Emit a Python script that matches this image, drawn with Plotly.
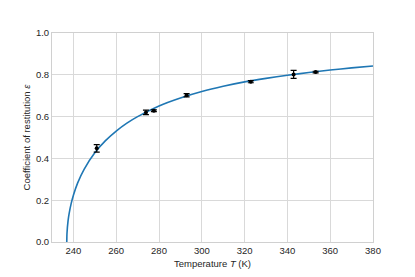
import plotly.graph_objects as go

# Measured data points
temp_pts = [250.9, 273.9, 277.6, 292.9, 322.9, 342.9, 353.2]
eps_pts = [0.448, 0.620, 0.628, 0.702, 0.767, 0.802, 0.813]
eps_err = [0.018, 0.011, 0.004, 0.008, 0.005, 0.019, 0.004]

# Fitted curve values
temp_curve = [236.9, 237.0, 237.5, 238, 239, 240, 242, 245, 250, 255, 260, 265, 270,
              280, 290, 300, 310, 320, 330, 340, 350, 360, 370, 380]
eps_curve = [0.0, 0.041, 0.101, 0.136, 0.186, 0.224, 0.283, 0.348, 0.427, 0.485, 0.531,
             0.569, 0.600, 0.651, 0.689, 0.720, 0.745, 0.766, 0.783, 0.798, 0.811,
             0.823, 0.833, 0.842]

x_ticks = [240, 260, 280, 300, 320, 340, 360, 380]
y_ticks = [0.0, 0.2, 0.4, 0.6, 0.8, 1.0]

fig = go.Figure()
fig.add_trace(go.Scatter(
    x=temp_curve, y=eps_curve, mode="lines",
    line=dict(color="#1f77b4", width=1.6, shape="spline", smoothing=0.6),
    showlegend=False, hoverinfo="skip"))
fig.add_trace(go.Scatter(
    x=temp_pts, y=eps_pts, mode="markers",
    marker=dict(color="black", size=4),
    error_y=dict(type="data", array=eps_err, color="black", thickness=1.2, width=3),
    showlegend=False))

font = dict(family="Liberation Sans, Arial, sans-serif", size=9.5, color="#262626")
axis_common = dict(showgrid=True, gridcolor="#d9d9d9", gridwidth=1,
                   showline=True, linecolor="#d0d0d0", linewidth=1, mirror=True,
                   zeroline=False, ticks="", tickfont=font)

# the page body adds an 8px offset, so margins compensate for it
fig.update_layout(
    width=415, height=277,
    margin=dict(l=44, r=50, t=25, b=43),
    paper_bgcolor="white", plot_bgcolor="white",
    font=font,
    xaxis=dict(range=[230, 380], tickvals=x_ticks, ticktext=[str(v) for v in x_ticks],
               title=dict(text="Temperature <i>T</i> (K)", font=font, standoff=4),
               **axis_common),
    yaxis=dict(range=[0, 1.0], tickvals=y_ticks, ticktext=[f"{v:.1f}" for v in y_ticks],
               title=dict(text="Coefficient of restitution <i>ε</i>", font=font, standoff=3),
               **axis_common),
)
fig.write_html("out.html")
